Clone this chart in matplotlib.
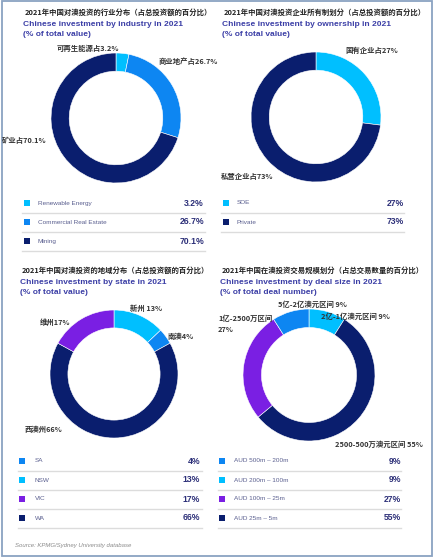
import matplotlib
matplotlib.use("Agg")
import matplotlib.pyplot as plt

W, H = 435, 558

CYAN = '#00bfff'
BLUE = '#0d86f2'
NAVY = '#0a1e6e'
PURPLE = '#7a1fe3'
TITLE_BLUE = '#3b3ea6'
CJK = ['Noto Sans CJK SC', 'DejaVu Sans']
LAT = ['Liberation Sans', 'DejaVu Sans']
NARROW = ['Liberation Sans Narrow', 'Liberation Sans', 'DejaVu Sans']

# ---- data ----
ind_names = ['Renewable Energy', 'Commercial Real Estate', 'Mining']
ind_values = [3.2, 26.7, 70.1]
ind_colors = [CYAN, BLUE, NAVY]
ind_labels = ['可再生能源占3.2%', '商业地产占26.7%', '矿业占70.1%']

own_names = ['SOE', 'Private']
own_values = [27, 73]
own_colors = [CYAN, NAVY]
own_labels = ['国有企业占27%', '私营企业占73%']

state_names = ['SA', 'NSW', 'VIC', 'WA']
state_values = [4, 13, 17, 66]
state_colors = [BLUE, CYAN, PURPLE, NAVY]
state_labels = ['南澳4%', '新州 13%', '维州17%', '西澳州66%']
state_order = [1, 0, 3, 2]   # clockwise from top: NSW, SA, WA, VIC

deal_names = ['AUD 500m – 200m', 'AUD 200m – 100m', 'AUD 100m – 25m', 'AUD 25m – 5m']
deal_values = [9, 9, 27, 55]
deal_colors = [BLUE, CYAN, PURPLE, NAVY]
deal_labels = ['5亿-2亿澳元区间 9%', '2亿-1亿澳元区间 9%', '1亿-2500万区间\n27%', '2500-500万澳元区间 55%']
deal_order = [1, 3, 2, 0]    # clockwise from top

panels = [
    dict(cn='2021年中国对澳投资的行业分布（占总投资额的百分比）',
         en=['Chinese investment by industry in 2021', '(% of total value)'],
         names=ind_names, values=ind_values, colors=ind_colors, labels=ind_labels,
         order=[0, 1, 2], fmt='{:.1f}%',
         tx=23, ty=12, center=(116, 118), r=65,
         label_pos=[(57, 48), (159, 61), (2, 140)],
         leg_y=203, sq_x=27, txt_x=38, val_x=204, line=(22, 205)),
    dict(cn='2021年中国对澳投资企业所有制划分（占总投资额的百分比）',
         en=['Chinese investment by ownership in 2021', '(% of total value)'],
         names=own_names, values=own_values, colors=own_colors, labels=own_labels,
         order=[0, 1], fmt='{:.0f}%',
         tx=222, ty=12, center=(316, 117), r=65,
         label_pos=[(345, 50), (221, 176)],
         leg_y=203, sq_x=226, txt_x=237, val_x=404, line=(221, 404)),
    dict(cn='2021年中国对澳投资的地域分布（占总投资额的百分比）',
         en=['Chinese investment by state in 2021', '(% of total value)'],
         names=state_names, values=state_values, colors=state_colors, labels=state_labels,
         order=state_order, fmt='{:.0f}%',
         tx=20, ty=270, center=(114, 374), r=64,
         label_pos=[(168, 336), (130, 308), (40, 322), (25, 429)],
         leg_y=461, sq_x=22, txt_x=35, val_x=200, line=(18, 202)),
    dict(cn='2021年中国在澳投资交易规模划分（占总交易数量的百分比）',
         en=['Chinese investment by deal size in 2021', '(% of total deal number)'],
         names=deal_names, values=deal_values, colors=deal_colors, labels=deal_labels,
         order=deal_order, fmt='{:.0f}%',
         tx=220, ty=270, center=(309, 375), r=66,
         label_pos=[(278, 304), (321, 316), (218, 324), (335, 444)],
         leg_y=461, sq_x=222, txt_x=234, val_x=401, line=(218, 401)),
]

fig = plt.figure(figsize=(W / 100, H / 100), dpi=100)
bg = fig.add_axes([0, 0, 1, 1])
bg.set_xlim(0, W)
bg.set_ylim(H, 0)
bg.axis('off')

# outer frame
bg.add_patch(plt.Rectangle((2.5, 1), 429.5, 554.5, fill=False, edgecolor='#8aa2c2', lw=1.3))

# donuts
for p in panels:
    cx, cy = p['center']
    r = p['r']
    ax = fig.add_axes([(cx - r) / W, 1 - (cy + r) / H, 2 * r / W, 2 * r / H])
    vals = [p['values'][i] for i in p['order']]
    cols = [p['colors'][i] for i in p['order']]
    ax.pie(vals, colors=cols, startangle=90, counterclock=False, radius=1,
           wedgeprops=dict(width=0.28, edgecolor='white', linewidth=0.4))
    ax.set_xlim(-1, 1)
    ax.set_ylim(-1, 1)
    ax.set_aspect('auto')
    ax.axis('off')

# overlay for all text, above the donuts
top = fig.add_axes([0, 0, 1, 1])
top.set_xlim(0, W)
top.set_ylim(H, 0)
top.axis('off')
top.patch.set_alpha(0)

ROW = 19
for p in panels:
    top.text(p['tx'] + 2, p['ty'], p['cn'], family=CJK, fontsize=5.3, fontweight='bold',
             color='#222222', ha='left', va='center')
    for j, line in enumerate(p['en']):
        top.text(p['tx'], p['ty'] + 12 + j * 10.5, line, family=LAT, fontsize=6.0,
                 fontweight='bold', color=TITLE_BLUE, ha='left', va='center')

    for lab, (lx, ly) in zip(p['labels'], p['label_pos']):
        top.text(lx, ly, lab, family=CJK, fontsize=5.3, fontweight='bold',
                 color='#333333', ha='left', va='center', linespacing=1.6)

    for k, (name, v, c) in enumerate(zip(p['names'], p['values'], p['colors'])):
        y = p['leg_y'] + k * ROW
        top.scatter([p['sq_x']], [y], marker='s', s=22, color=c, linewidths=0)
        top.text(p['txt_x'], y, name, family=LAT, fontsize=4.6, color='#5a5f8f',
                 ha='left', va='center')
        top.text(p['val_x'], y, p['fmt'].format(v), family=NARROW, fontsize=6.2,
                 fontweight='bold', color='#2c2f78', ha='right', va='center')
        top.plot(p['line'], [y + 10, y + 10], color='#dcdcdc', lw=1)

top.text(15, 545, 'Source: KPMG/Sydney University database', family=LAT, fontsize=4.3,
         style='italic', color='#8a8a8a', ha='left', va='center')

fig.savefig('out.png', dpi=100)
